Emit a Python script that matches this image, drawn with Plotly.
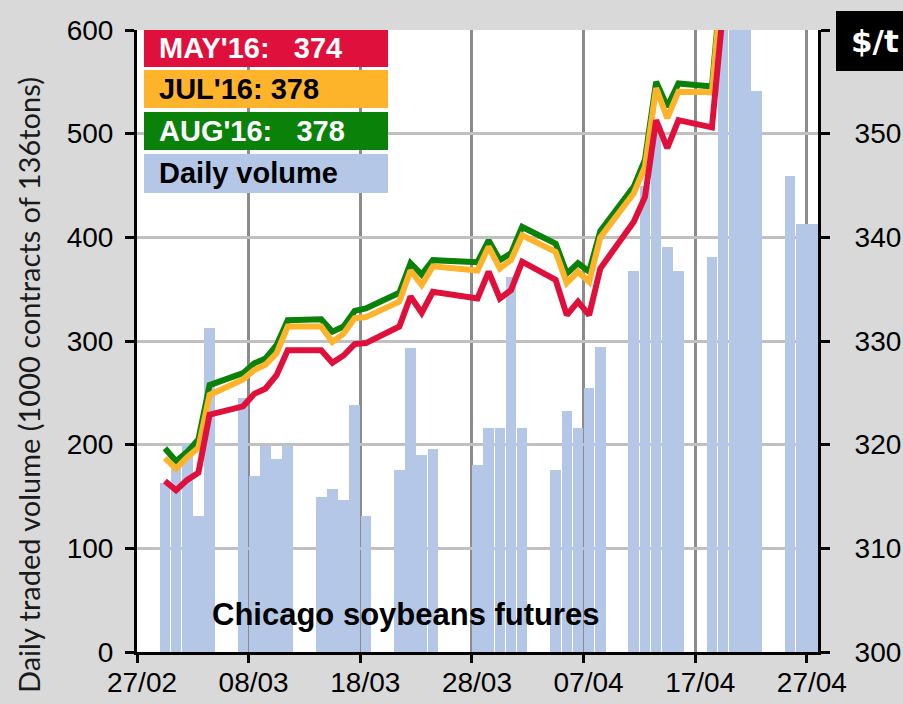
import pandas as pd
import plotly.graph_objects as go

# trading days (Good Friday 25/03 closed)
dates = [
    "2016-02-29", "2016-03-01", "2016-03-02", "2016-03-03", "2016-03-04",
    "2016-03-07", "2016-03-08", "2016-03-09", "2016-03-10", "2016-03-11",
    "2016-03-14", "2016-03-15", "2016-03-16", "2016-03-17", "2016-03-18",
    "2016-03-21", "2016-03-22", "2016-03-23", "2016-03-24",
    "2016-03-28", "2016-03-29", "2016-03-30", "2016-03-31", "2016-04-01",
    "2016-04-04", "2016-04-05", "2016-04-06", "2016-04-07", "2016-04-08",
    "2016-04-11", "2016-04-12", "2016-04-13", "2016-04-14", "2016-04-15",
    "2016-04-18", "2016-04-19", "2016-04-20", "2016-04-21", "2016-04-22",
    "2016-04-25", "2016-04-26", "2016-04-27",
]

# daily volume, 1000 contracts
volume = [
    163, 185, 202, 131, 313,
    245, 170, 199, 186, 199,
    150, 157, 147, 238, 131,
    176, 293, 190, 196,
    180, 216, 216, 362, 216,
    176, 232, 216, 255, 294,
    368, 450, 500, 391, 368,
    381, 680, 720, 640, 541,
    459, 413, 413,
]

# settlement prices, $/t
may16 = [
    316.5, 315.6, 316.6, 317.3, 322.9,
    323.7, 324.9, 325.4, 326.7, 329.1,
    329.1, 327.9, 328.6, 329.7, 329.8,
    331.4, 334.3, 332.7, 334.75,
    334.1, 336.7, 334.1, 334.9, 337.65,
    335.9, 332.5, 333.8, 332.5, 337.0,
    341.5, 343.9, 351.3, 348.6, 351.3,
    350.6, 362.0, 368.0, 371.0, 369.0,
    368.0, 371.0, 374.0,
]
jul16 = [
    318.7, 317.7, 318.8, 319.7, 324.8,
    326.3, 327.2, 327.7, 328.8, 331.4,
    331.4, 329.9, 330.7, 332.2, 332.3,
    333.8, 336.8, 335.4, 337.2,
    336.8, 339.1, 337.0, 337.8, 340.2,
    338.6, 335.6, 336.7, 335.7, 340.0,
    344.25, 346.8, 354.4, 351.5, 354.05,
    354.0, 366.0, 372.0, 375.0, 373.0,
    372.0, 375.0, 378.0,
]
aug16 = [
    319.65, 318.4, 319.3, 320.5, 325.75,
    326.9, 327.85, 328.3, 329.6, 332.0,
    332.1, 330.9, 331.4, 332.9, 333.15,
    334.65, 337.5, 336.4, 337.8,
    337.6, 339.7, 337.8, 338.45, 341.0,
    339.4, 336.5, 337.5, 336.7, 340.6,
    344.9, 347.5, 355.0, 352.6, 354.85,
    354.55, 366.5, 372.5, 375.5, 373.5,
    372.5, 375.5, 378.0,
]

contracts = ["MAY'16", "JUL'16", "AUG'16"]
last_price = [374, 378, 378]
gaps = [3, 1, 3]
volume_label = "Daily volume"
price_ticks = [300, 310, 320, 330, 340, 350, 360]

COLORS = {
    'may': '#E0103C',
    'jul': '#FDB42B',
    'aug': '#0A820A',
    'bar': '#B4C7E7',
}

# Excel date axis: each day's mark sits in the middle of its day slot
x = pd.to_datetime(dates) + pd.Timedelta(hours=12)

fig = go.Figure()
fig.add_trace(go.Bar(
    x=x, y=volume, width=0.95 * 86400000,
    marker_color=COLORS['bar'], marker_line_width=0,
    name=volume_label,
))
for vals, col, name in [(aug16, COLORS['aug'], contracts[2]),
                        (jul16, COLORS['jul'], contracts[1]),
                        (may16, COLORS['may'], contracts[0])]:
    fig.add_trace(go.Scatter(
        x=x, y=vals, yaxis='y2', mode='lines', name=name,
        line=dict(color=col, width=6),
    ))

L, R, T, B = 137, 85, 30, 52
W, H = 903, 704
pw, ph = W - L - R, H - T - B


def px(xp):
    return (xp - L) / pw


def py(yp):
    return (H - B - yp) / ph


tickfont = dict(family='Liberation Sans, Arial', size=28, color='black')
axis_common = dict(
    showline=True, linecolor='black', linewidth=3, automargin=False,
    ticks='outside', tickwidth=3, tickcolor='black',
    tickfont=tickfont,
)

fig.update_layout(
    width=W, height=H,
    margin=dict(l=L, r=R, t=T, b=B, autoexpand=False),
    paper_bgcolor='#D9D9D9', plot_bgcolor='white',
    showlegend=False, bargap=0,
    xaxis=dict(
        type='date', range=['2016-02-27', '2016-04-28'],
        tick0='2016-02-27', dtick=10 * 86400000, tickformat='%d/%m',
        showgrid=True, gridcolor='#8C8C8C', gridwidth=3,
        ticklen=8, ticklabelstandoff=-5, ticklabelshift=5, **axis_common,
    ),
    yaxis=dict(
        range=[0, 600], dtick=100,
        showgrid=True, gridcolor='#C0C0C0', gridwidth=2.5, zeroline=False,
        ticklen=9, ticklabelstandoff=6, **axis_common,
    ),
    yaxis2=dict(
        range=[300, 360], tickvals=price_ticks,
        ticktext=[str(v) for v in price_ticks[:-1]] + [''],
        overlaying='y', side='right', showgrid=False, zeroline=False,
        ticklen=9, ticklabelstandoff=19, **axis_common,
    ),
)

# legend boxes drawn like the original
box_rows = [(30, 67), (70, 108), (112, 150), (154, 193)]
box_fill = [COLORS['may'], COLORS['jul'], COLORS['aug'], COLORS['bar']]
box_text = ['white', 'black', 'white', 'black']
labels = [f"{c}:{chr(160) * g}{p}" for c, g, p in zip(contracts, gaps, last_price)] + [volume_label]
for (y0, y1), fill, tc, lab in zip(box_rows, box_fill, box_text, labels):
    fig.add_shape(type='rect', xref='paper', yref='paper',
                  x0=px(144), x1=px(388), y0=py(y1), y1=py(y0),
                  fillcolor=fill, line_width=0, layer='above')
    fig.add_annotation(xref='paper', yref='paper', x=px(157), y=py((y0 + y1) / 2),
                       xanchor='left', yanchor='middle', showarrow=False, text=lab,
                       font=dict(family='Liberation Sans, Arial', size=29, color=tc, weight='bold'))

# unit box on the right, running off the edge as in the original
fig.add_shape(type='rect', xref='paper', yref='paper',
              x0=px(836), x1=px(910), y0=py(71), y1=py(11),
              fillcolor='black', line_width=0, layer='above')
fig.add_annotation(xref='paper', yref='paper', x=px(849), y=py(41),
                   xanchor='left', yanchor='middle', showarrow=False, text='$/t',
                   font=dict(family='DejaVu Sans', size=31, color='white', weight='bold'))

fig.add_annotation(xref='paper', yref='paper', x=px(406), y=py(614),
                   xanchor='center', yanchor='middle', showarrow=False,
                   text='Chicago soybeans futures',
                   font=dict(family='Liberation Sans, Arial', size=31, color='black', weight='bold'))

fig.add_annotation(xref='paper', yref='paper', x=px(28), y=py(385),
                   xanchor='center', yanchor='middle', showarrow=False, textangle=-90,
                   text='Daily traded volume (1000 contracts of 136tons)',
                   font=dict(family='Lato, Noto Sans', size=29, color='#1a1a1a'))

fig.write_html("out.html", config={'displayModeBar': False},
               post_script="document.body.style.margin='0';")
